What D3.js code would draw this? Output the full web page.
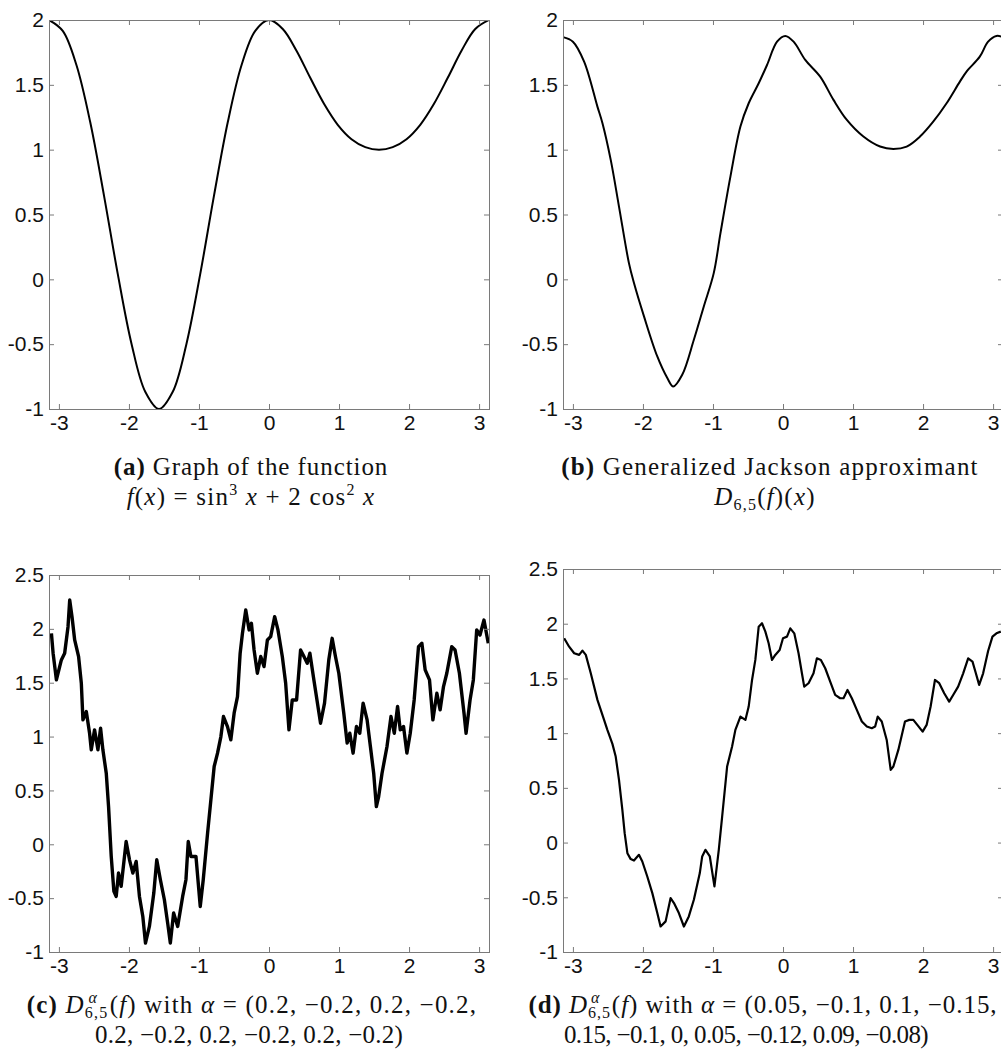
<!DOCTYPE html>
<html>
<head>
<meta charset="utf-8">
<script src="https://cdn.jsdelivr.net/npm/d3@7"></script>
<style>
  body { margin: 0; background: #fff; }
  svg { display: block; }
</style>
</head>
<body>
<svg id="chart" width="1001" height="1059"></svg>
<script>
// ---- data ----
var xTicks = [-3, -2, -1, 0, 1, 2, 3];
var yTicksAB = [-1, -0.5, 0, 0.5, 1, 1.5, 2];
var yTicksCD = [-1, -0.5, 0, 0.5, 1, 1.5, 2, 2.5];

// (a) f(x) = sin^3 x + 2cos^2 x
var aX = [-3.1416, -2.9452, -2.7489, -2.5525, -2.3562, -2.1598, -1.9635, -1.7671, -1.5708,
  -1.3744, -1.1781, -0.9817, -0.7854, -0.5890, -0.3927, -0.1963, 0,
  0.1963, 0.3927, 0.5890, 0.7854, 0.9817, 1.1781, 1.3744, 1.5708,
  1.7671, 1.9635, 2.1598, 2.3562, 2.5525, 2.7489, 2.9452, 3.1416];
var aY = [2, 1.916, 1.651, 1.211, 0.646, 0.042, -0.496, -0.867, -1,
  -0.867, -0.496, 0.042, 0.646, 1.211, 1.651, 1.916, 2,
  1.931, 1.763, 1.554, 1.354, 1.192, 1.081, 1.020, 1,
  1.020, 1.081, 1.192, 1.354, 1.554, 1.763, 1.931, 2];

// (b) D_{6,5}(f)
var bX = [-3.14, -3.0, -2.84, -2.65, -2.578, -2.46, -2.342, -2.2, -2.128, -1.985, -1.795, -1.652,
  -1.567, -1.439, -1.273, -1.131, -0.989, -0.893, -0.751, -0.608, -0.49, -0.347, -0.228, -0.085,
  0.033, 0.151, 0.318, 0.531, 0.721, 0.912, 1.148, 1.386, 1.576, 1.766, 1.956, 2.145, 2.336,
  2.526, 2.621, 2.81, 2.929, 3.048, 3.14];
var bY = [1.868, 1.833, 1.679, 1.332, 1.204, 0.921, 0.561, 0.125, -0.029, -0.286, -0.595, -0.761,
  -0.826, -0.736, -0.466, -0.209, 0.048, 0.356, 0.792, 1.178, 1.358, 1.512, 1.653, 1.833,
  1.877, 1.833, 1.692, 1.563, 1.384, 1.229, 1.101, 1.024, 1.006, 1.024, 1.101, 1.216, 1.358,
  1.525, 1.602, 1.717, 1.833, 1.877, 1.868];

// (c) alpha = (0.2, -0.2, ...)
var cX = [-3.107, -3.083, -3.036, -2.989, -2.965, -2.918, -2.87, -2.846, -2.813, -2.775, -2.719,
  -2.68, -2.657, -2.609, -2.562, -2.538, -2.491, -2.443, -2.405, -2.372, -2.324, -2.291, -2.253,
  -2.215, -2.182, -2.149, -2.111, -2.04, -1.992, -1.944, -1.897, -1.85, -1.802, -1.764, -1.708,
  -1.645, -1.603, -1.551, -1.494, -1.447, -1.409, -1.362, -1.304, -1.233, -1.186, -1.153, -1.115,
  -1.043, -0.982, -0.939, -0.877, -0.83, -0.783, -0.735, -0.687, -0.65, -0.593, -0.545, -0.498,
  -0.45, -0.412, -0.379, -0.332, -0.284, -0.251, -0.213, -0.166, -0.118, -0.071, -0.023, 0.024,
  0.081, 0.128, 0.19, 0.238, 0.285, 0.332, 0.394, 0.451, 0.499, 0.546, 0.584, 0.641, 0.736,
  0.793, 0.854, 0.902, 0.949, 0.997, 1.068, 1.116, 1.154, 1.201, 1.249, 1.296, 1.344, 1.401,
  1.448, 1.495, 1.533, 1.566, 1.614, 1.685, 1.742, 1.789, 1.836, 1.874, 1.921, 1.969, 2.017,
  2.073, 2.135, 2.183, 2.23, 2.292, 2.34, 2.397, 2.444, 2.492, 2.539, 2.61, 2.657, 2.719,
  2.785, 2.814, 2.871, 2.918, 2.966, 3.013, 3.07, 3.131];
var cY = [1.959, 1.774, 1.526, 1.65, 1.712, 1.774, 2.02, 2.268, 2.113, 1.897, 1.742,
  1.495, 1.155, 1.232, 1.031, 0.877, 1.062, 0.877, 1.078, 0.877, 0.66, 0.35, -0.113,
  -0.437, -0.484, -0.267, -0.391, 0.026, -0.144, -0.267, -0.159, -0.484, -0.67, -0.917, -0.763,
  -0.453, -0.144, -0.329, -0.515, -0.732, -0.917, -0.638, -0.763, -0.484, -0.329, 0.026, -0.113,
  -0.113, -0.577, -0.329, 0.104, 0.413, 0.722, 0.846, 1.0, 1.186, 1.093, 0.97, 1.217,
  1.371, 1.774, 1.959, 2.175, 1.99, 2.051, 1.804, 1.588, 1.743, 1.65, 1.897, 1.928,
  2.113, 1.99, 1.743, 1.495, 1.062, 1.34, 1.34, 1.804, 1.743, 1.681, 1.774, 1.526, 1.124,
  1.31, 1.712, 1.912, 1.743, 1.588, 1.217, 0.939, 1.031, 0.846, 1.093, 1.031, 1.31, 1.155,
  0.908, 0.66, 0.35, 0.443, 0.66, 0.908, 1.186, 1.031, 1.279, 1.062, 1.093, 0.846, 1.031,
  1.34, 1.835, 1.866, 1.619, 1.526, 1.155, 1.402, 1.248, 1.464, 1.588, 1.835, 1.804, 1.588,
  1.217, 1.031, 1.34, 1.526, 1.99, 1.943, 2.082, 1.866];

// (d) alpha = (0.05, -0.1, ...)
var dX = [-3.125, -3.054, -2.982, -2.911, -2.864, -2.816, -2.745, -2.65, -2.555, -2.508, -2.436,
  -2.389, -2.342, -2.294, -2.261, -2.222, -2.175, -2.128, -2.057, -2.009, -1.938, -1.866, -1.795,
  -1.748, -1.676, -1.605, -1.557, -1.487, -1.415, -1.345, -1.273, -1.188, -1.154, -1.107, -1.045,
  -0.979, -0.917, -0.869, -0.798, -0.727, -0.68, -0.608, -0.537, -0.49, -0.442, -0.395, -0.347,
  -0.3, -0.252, -0.205, -0.157, -0.11, -0.048, 0, 0.057, 0.104, 0.161, 0.222, 0.27, 0.303,
  0.365, 0.436, 0.484, 0.541, 0.603, 0.674, 0.745, 0.816, 0.864, 0.921, 0.983, 1.054, 1.126,
  1.197, 1.268, 1.316, 1.353, 1.41, 1.481, 1.538, 1.576, 1.647, 1.742, 1.804, 1.861, 1.918,
  1.994, 2.051, 2.108, 2.17, 2.231, 2.302, 2.373, 2.43, 2.501, 2.573, 2.644, 2.706, 2.754,
  2.801, 2.858, 2.929, 2.991, 3.048, 3.11];
var dY = [1.867, 1.79, 1.73, 1.715, 1.754, 1.715, 1.547, 1.304, 1.121, 1.03, 0.902,
  0.786, 0.573, 0.299, 0.086, -0.097, -0.151, -0.164, -0.112, -0.173, -0.31, -0.462, -0.644,
  -0.767, -0.72, -0.507, -0.553, -0.644, -0.767, -0.675, -0.523, -0.279, -0.127, -0.066, -0.127,
  -0.401, -0.066, 0.238, 0.695, 0.878, 1.03, 1.151, 1.121, 1.243, 1.486, 1.669, 1.973,
  2.004, 1.928, 1.821, 1.669, 1.715, 1.76, 1.867, 1.882, 1.958, 1.912, 1.73, 1.547, 1.425,
  1.456, 1.547, 1.684, 1.669, 1.593, 1.471, 1.349, 1.319, 1.319, 1.395, 1.319, 1.212, 1.106,
  1.06, 1.045, 1.06, 1.151, 1.106, 0.938, 0.664, 0.695, 0.847, 1.106, 1.121, 1.121, 1.075,
  1.014, 1.075, 1.243, 1.486, 1.456, 1.365, 1.288, 1.349, 1.425, 1.547, 1.684, 1.654, 1.547,
  1.441, 1.547, 1.751, 1.882, 1.912, 1.928];

// ---- layout ----
var panels = [
  { id: "a", xs: aX, ys: aY, box: [49, 489, 20, 409], yDom: [-1, 2], yTicks: yTicksAB, smooth: true, width: 2 },
  { id: "b", xs: bX, ys: bY, box: [563, 1003, 20, 409], yDom: [-1, 2], yTicks: yTicksAB, smooth: true, width: 2 },
  { id: "c", xs: cX, ys: cY, box: [49, 489, 575, 952], yDom: [-1, 2.5], yTicks: yTicksCD, smooth: false, width: 3.4 },
  { id: "d", xs: dX, ys: dY, box: [563, 1003, 569, 952], yDom: [-1, 2.5], yTicks: yTicksCD, smooth: false, width: 2.2 }
];

var svg = d3.select("#chart");
var frameColor = "#7a7a7a";
var tickFont = "'Liberation Sans', Arial, sans-serif";

panels.forEach(function (p) {
  var L = p.box[0], R = p.box[1], T = p.box[2], B = p.box[3];
  var x = d3.scaleLinear().domain([-Math.PI, Math.PI]).range([L, R]);
  var y = d3.scaleLinear().domain(p.yDom).range([B, T]);

  svg.append("clipPath").attr("id", "clip-" + p.id)
    .append("rect").attr("x", L).attr("y", T).attr("width", R - L).attr("height", B - T);

  var line = d3.line()
    .x(function (d) { return x(d[0]); })
    .y(function (d) { return y(d[1]); })
    .curve(p.smooth ? d3.curveCatmullRom.alpha(0.5) : d3.curveLinear);

  var pts = p.xs.map(function (v, i) { return [v, p.ys[i]]; });
  svg.append("path")
    .datum(pts)
    .attr("clip-path", "url(#clip-" + p.id + ")")
    .attr("fill", "none")
    .attr("stroke", "#000")
    .attr("stroke-width", p.width)
    .attr("stroke-linejoin", "round")
    .attr("d", line);

  // inward ticks on all four sides, labels only left and bottom
  function styleAxis(g, showText) {
    g.select(".domain").remove();
    g.selectAll(".tick line").attr("stroke", frameColor);
    if (showText) {
      g.selectAll("text").attr("fill", "#111").attr("font-family", tickFont).attr("font-size", 21);
    } else {
      g.selectAll("text").remove();
    }
  }
  svg.append("g").attr("transform", "translate(0," + B + ")")
    .call(d3.axisBottom(x).tickValues(xTicks).tickSize(-5).tickPadding(6).tickFormat(String))
    .call(styleAxis, true);
  svg.append("g").attr("transform", "translate(0," + T + ")")
    .call(d3.axisTop(x).tickValues(xTicks).tickSize(-5))
    .call(styleAxis, false);
  svg.append("g").attr("transform", "translate(" + L + ",0)")
    .call(d3.axisLeft(y).tickValues(p.yTicks).tickSize(-5).tickPadding(5).tickFormat(String))
    .call(styleAxis, true);
  svg.append("g").attr("transform", "translate(" + R + ",0)")
    .call(d3.axisRight(y).tickValues(p.yTicks).tickSize(-5))
    .call(styleAxis, false);

  svg.append("rect")
    .attr("x", L + 0.5).attr("y", T + 0.5)
    .attr("width", R - L).attr("height", B - T)
    .attr("fill", "none").attr("stroke", frameColor).attr("stroke-width", 1);
});

// ---- captions ----
// segment kinds: n normal, b bold, i italic, sup, sub, ss (sub + sup stacked)
// w = width the line takes in the picture
var captions = [
  { cx: 251, y: 475, w: 275, segs: [["b", "(a)"], ["n", " Graph of the function"]] },
  { cx: 251, y: 505, w: 252, segs: [["i", "f"], ["n", "("], ["i", "x"], ["n", ") = sin"], ["sup", "3"], ["i", " x"],
    ["n", " + 2 cos"], ["sup", "2"], ["i", " x"]] },
  { cx: 770, y: 475, w: 418, segs: [["b", "(b)"], ["n", " Generalized Jackson approximant"]] },
  { cx: 765, y: 505, w: 115, segs: [["i", "D"], ["sub", "6,5"], ["n", "("], ["i", "f"], ["n", ")("], ["i", "x"], ["n", ")"]] },
  { cx: 252, y: 1013, w: 450, segs: [["b", "(c)"], ["n", " "], ["i", "D"], ["ss", "6,5", "α"], ["n", "("], ["i", "f"],
    ["n", ") with "], ["i", "α"], ["n", " = (0.2, −0.2, 0.2, −0.2,"]] },
  { cx: 249, y: 1043, w: 308, segs: [["n", "0.2, −0.2, 0.2, −0.2, 0.2, −0.2)"]] },
  { cx: 763, y: 1013, w: 468, segs: [["b", "(d)"], ["n", " "], ["i", "D"], ["ss", "6,5", "α"], ["n", "("], ["i", "f"],
    ["n", ") with "], ["i", "α"], ["n", " = (0.05, −0.1, 0.1, −0.15,"]] },
  { cx: 746, y: 1043, w: 355, segs: [["n", "0.15, −0.1, 0, 0.05, −0.12, 0.09, −0.08)"]] }
];

var capFont = "'Liberation Serif', 'Times New Roman', serif";
var capSize = 25, smallSize = 16;

captions.forEach(function (c) {
  var text = svg.append("text")
    .attr("x", c.cx).attr("y", c.y)
    .attr("text-anchor", "middle")
    .attr("font-family", capFont)
    .attr("font-size", capSize)
    .attr("fill", "#111");
  var off = 0, pendingDx = 0, nChars = 0;
  c.segs.forEach(function (s) {
    var kind = s[0];
    var ts;
    if (kind === "sup" || kind === "sub") {
      var target = kind === "sup" ? -10 : 5;
      ts = text.append("tspan").text(s[1]).attr("font-size", smallSize).attr("dy", target - off);
      off = target;
      nChars += s[1].length;
    } else if (kind === "ss") {
      var sub = text.append("tspan").text(s[1]).attr("font-size", smallSize).attr("dy", 5 - off);
      var w1 = sub.node().getComputedTextLength();
      var sup = text.append("tspan").text(s[2]).attr("font-size", smallSize).attr("font-style", "italic")
        .attr("dx", -w1).attr("dy", -15);
      var w2 = sup.node().getComputedTextLength();
      off = -10;
      pendingDx = w1 - w2;
      nChars += s[1].length;
    } else {
      ts = text.append("tspan").text(s[1]).attr("dy", -off);
      if (pendingDx) { ts.attr("dx", pendingDx); pendingDx = 0; }
      off = 0;
      if (kind === "b") ts.attr("font-weight", "bold");
      if (kind === "i") ts.attr("font-style", "italic");
      nChars += s[1].length;
    }
  });
  // Computer Modern runs a bit wider than Times: fit each line to its measured width
  var natural = text.node().getBBox().width;
  var spacing = (c.w - natural) / nChars;
  text.attr("letter-spacing", Math.max(-0.6, Math.min(1.2, spacing)).toFixed(2));
});
</script>
</body>
</html>
